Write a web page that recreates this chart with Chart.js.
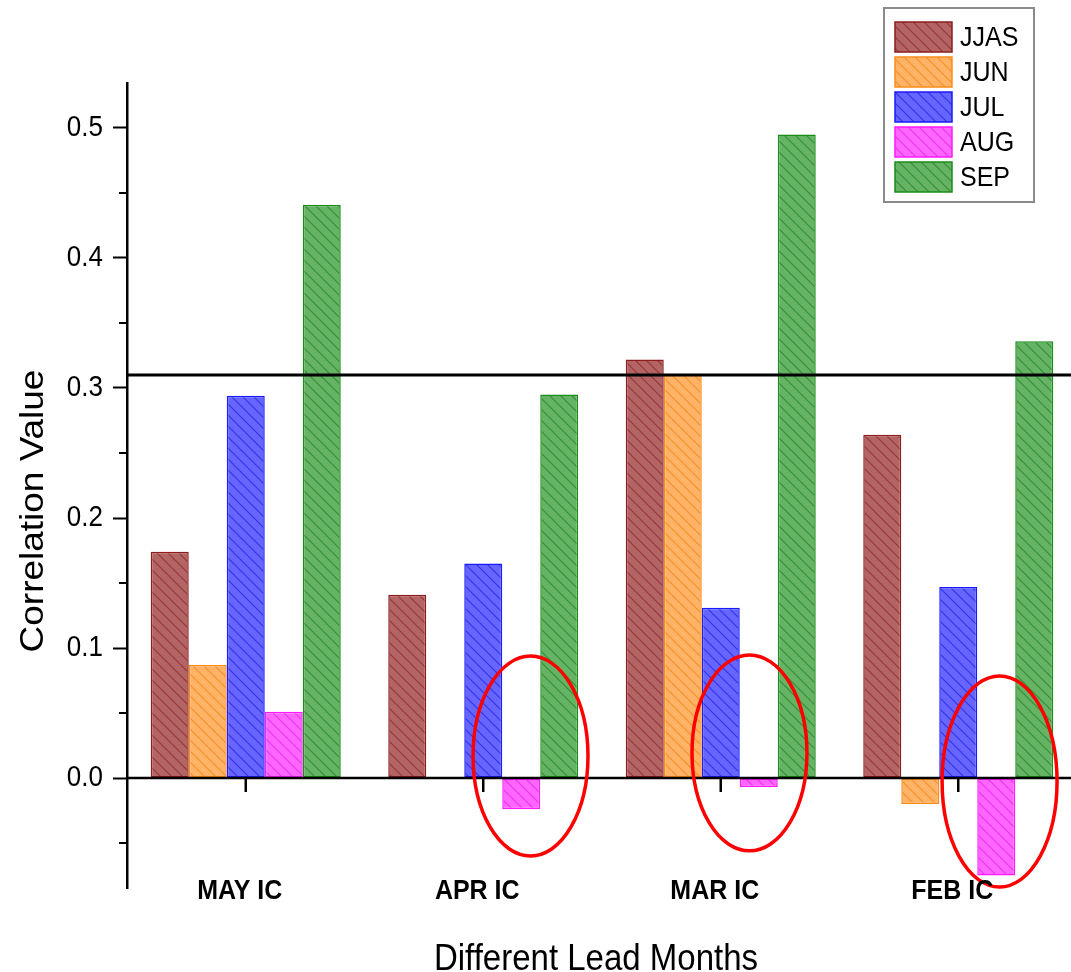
<!DOCTYPE html>
<html><head><meta charset="utf-8">
<script src="https://cdn.jsdelivr.net/npm/chart.js@4.4.1/dist/chart.umd.min.js"></script>
<style>html,body{margin:0;padding:0;background:#fff;overflow:hidden}#wrap{width:1071px;height:972px;overflow:hidden;position:relative}canvas{display:block}</style>
</head><body><div id="wrap"><canvas id="c" width="1077" height="972" style="width:1077px;height:972px"></canvas></div>
<script>
const categories = ['MAY IC', 'APR IC', 'MAR IC', 'FEB IC'];
const seriesNames = ['JJAS', 'JUN', 'JUL', 'AUG', 'SEP'];
const jjasValues = [0.174, 0.141, 0.322, 0.264];
const junValues = [0.087, null, 0.311, -0.020];
const julValues = [0.294, 0.165, 0.131, 0.147];
const augValues = [0.051, -0.024, -0.007, -0.075];
const sepValues = [0.441, 0.295, 0.495, 0.336];
const yMajorTicks = [0, 0.1, 0.2, 0.3, 0.4, 0.5];
const yMinorTicks = [-0.05, 0.05, 0.15, 0.25, 0.35, 0.45];
const thresholdValue = 0.31;
const yMin = -0.0846, yMax = 0.5346;
const xTitle = 'Different Lead Months';
const yTitle = 'Correlation Value';
// highlight ellipses in data space (category units / correlation values)
const highlightLeft = [0.957, 1.879, 2.932];
const highlightRight = [1.441, 2.363, 3.416];
const highlightTop = [0.0938, 0.0946, 0.0785];
const highlightBottom = [-0.060, -0.056, -0.0838];

const seriesValues = [jjasValues, junValues, julValues, augValues, sepValues];
const fillColors = ['#b36464', '#ffb366', '#6666ff', '#ff66ff', '#66b366'];
const borderColors = ['#8e1c1c', '#ff8c1a', '#1a1aff', '#ff1aff', '#1a8c1a'];
const hatchColors = ['rgba(130,20,20,0.55)', 'rgba(240,120,0,0.6)', 'rgba(0,0,220,0.5)', 'rgba(220,0,220,0.5)', 'rgba(0,110,0,0.5)'];

function hatch(fill, line) {
  const s = 11, c = document.createElement('canvas');
  c.width = s; c.height = s;
  const g = c.getContext('2d');
  g.fillStyle = fill; g.fillRect(0, 0, s, s);
  g.strokeStyle = line; g.lineWidth = 1.2;
  g.beginPath();
  g.moveTo(-1, -1); g.lineTo(s + 1, s + 1);
  g.moveTo(s - 1, -1); g.lineTo(s + 1, 1);
  g.moveTo(-1, s - 1); g.lineTo(1, s + 1);
  g.stroke();
  return g.createPattern(c, 'repeat');
}
const patterns = fillColors.map((f, i) => hatch(f, hatchColors[i]));

const isMajor = v => Math.abs(v * 10 - Math.round(v * 10)) < 1e-6;
const FONT = '"Liberation Sans", Arial, sans-serif';
const STRETCH = 1.12;

function stretchText(ctx, text, x, y, font, align, baseline, rotate) {
  ctx.save();
  ctx.font = font;
  ctx.textAlign = align;
  ctx.textBaseline = baseline;
  ctx.translate(x, y);
  if (rotate) { ctx.rotate(-Math.PI / 2); ctx.scale(STRETCH, 1); }
  else ctx.scale(1, STRETCH);
  ctx.fillText(text, 0, 0);
  ctx.restore();
}

const decor = {
  id: 'decor',
  afterDraw(chart) {
    const { ctx, chartArea: a, scales: { x, y } } = chart;
    ctx.save();
    ctx.strokeStyle = '#000';
    ctx.lineCap = 'butt';
    ctx.lineWidth = 2;
    yMinorTicks.forEach(v => {
      const py = y.getPixelForValue(v);
      ctx.beginPath(); ctx.moveTo(a.left - 8, py); ctx.lineTo(a.left, py); ctx.stroke();
    });
    const y0 = y.getPixelForValue(0);
    ctx.lineWidth = 2.5;
    ctx.beginPath(); ctx.moveTo(a.left, y0); ctx.lineTo(a.right, y0); ctx.stroke();
    categories.forEach((c, i) => {
      const px = x.getPixelForValue(i);
      ctx.beginPath(); ctx.moveTo(px, y0); ctx.lineTo(px, y0 + 14); ctx.stroke();
    });
    const yt = y.getPixelForValue(thresholdValue);
    ctx.lineWidth = 3;
    ctx.beginPath(); ctx.moveTo(a.left, yt); ctx.lineTo(a.right, yt); ctx.stroke();

    ctx.strokeStyle = '#ff0000';
    ctx.lineWidth = 3.5;
    highlightLeft.forEach((l, i) => {
      const x1 = x.getPixelForValue(l), x2 = x.getPixelForValue(highlightRight[i]);
      const y1 = y.getPixelForValue(highlightTop[i]), y2 = y.getPixelForValue(highlightBottom[i]);
      ctx.beginPath();
      ctx.ellipse((x1 + x2) / 2, (y1 + y2) / 2, (x2 - x1) / 2, (y2 - y1) / 2, 0, 0, Math.PI * 2);
      ctx.stroke();
    });

    ctx.fillStyle = '#000';
    // y tick labels
    yMajorTicks.forEach(v => {
      stretchText(ctx, v.toFixed(1), a.left - 24, y.getPixelForValue(v), '26px ' + FONT, 'right', 'middle');
    });
    // category labels
    categories.forEach((c, i) => {
      stretchText(ctx, c, x.getPixelForValue(i) - 6, a.bottom + 11, 'bold 25px ' + FONT, 'center', 'alphabetic');
    });
    // axis titles
    stretchText(ctx, xTitle, 596, 970, '33px ' + FONT, 'center', 'alphabetic');
    stretchText(ctx, yTitle, 43, 511, '33px ' + FONT, 'center', 'alphabetic', true);

    // legend
    ctx.strokeStyle = '#8a8a8a';
    ctx.lineWidth = 2;
    ctx.strokeRect(884, 8, 150, 194);
    seriesNames.forEach((n, i) => {
      const top = 22 + i * 35;
      ctx.fillStyle = patterns[i];
      ctx.fillRect(895, top, 57, 30);
      ctx.strokeStyle = borderColors[i];
      ctx.lineWidth = 1.5;
      ctx.strokeRect(895, top, 57, 30);
      ctx.fillStyle = '#000';
      stretchText(ctx, n, 960, top + 16, '25px ' + FONT, 'left', 'middle');
    });
    ctx.restore();
  }
};

new Chart(document.getElementById('c'), {
  type: 'bar',
  data: {
    labels: categories,
    datasets: seriesNames.map((n, i) => ({
      label: n,
      data: seriesValues[i],
      backgroundColor: patterns[i],
      borderColor: borderColors[i],
      borderWidth: 1.5,
      borderSkipped: false,
      categoryPercentage: 0.8,
      barPercentage: 1.0
    }))
  },
  options: {
    responsive: false,
    maintainAspectRatio: false,
    devicePixelRatio: 1,
    animation: false,
    layout: { padding: { top: 83, right: 0, bottom: 0, left: 0 } },
    plugins: { legend: { display: false }, tooltip: { enabled: false }, title: { display: false } },
    scales: {
      x: {
        type: 'category',
        offset: true,
        grid: { display: false, drawTicks: false },
        border: { display: false },
        ticks: { display: false },
        afterFit(s) { s.height = 84; }
      },
      y: {
        min: yMin,
        max: yMax,
        afterBuildTicks(s) {
          s.ticks = [...yMinorTicks, ...yMajorTicks].sort((p, q) => p - q).map(v => ({ value: v }));
        },
        afterFit(s) { s.width = 127; },
        grid: {
          display: true,
          drawOnChartArea: false,
          drawTicks: true,
          tickLength: 14,
          tickWidth: 2,
          tickColor: c => isMajor(c.tick.value) ? '#000' : 'rgba(0,0,0,0)'
        },
        border: { display: true, color: '#000', width: 2.5 },
        ticks: { display: false }
      }
    }
  },
  plugins: [decor]
});
</script>
</body></html>
